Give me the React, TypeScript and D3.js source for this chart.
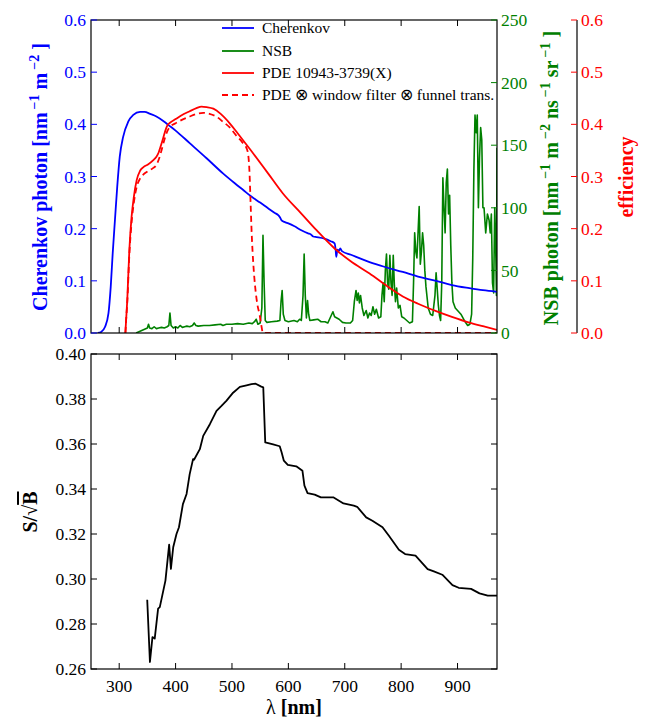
import React from 'react';
import * as d3 from 'd3';

type P = [number, number];

const cherenkov: P[] = [
  [262, 0], [268, 0.002], [275, 0.012], [281, 0.038], [285, 0.089], [288.5, 0.153], [292.5, 0.217],
  [296.5, 0.28], [301, 0.338], [307, 0.376], [316, 0.405], [325, 0.418], [337, 0.424], [345, 0.424],
  [355, 0.42], [366, 0.415], [380, 0.405], [387, 0.399], [400, 0.388], [425, 0.364], [455, 0.335],
  [484, 0.306], [505, 0.287], [520, 0.274], [535, 0.261], [550, 0.25], [564, 0.239], [576, 0.23],
  [582, 0.226], [585, 0.222], [588, 0.216], [593, 0.213], [600, 0.21], [610, 0.205], [623, 0.197],
  [635, 0.191], [640, 0.189], [644, 0.185], [650, 0.184], [664, 0.181], [675, 0.176], [682, 0.172],
  [684, 0.158], [685, 0.146], [687, 0.16], [690, 0.158], [692, 0.162], [695, 0.157], [711, 0.15],
  [744, 0.136], [770, 0.127], [803, 0.117], [830, 0.108], [862, 0.1], [890, 0.092], [921, 0.086],
  [945, 0.082], [970, 0.079],
];

const pde: P[] = [
  [311, 0], [312, 0.02], [314.3, 0.063], [318, 0.159], [322, 0.223], [326, 0.261], [331, 0.293],
  [337, 0.311], [343, 0.318], [351, 0.323], [360, 0.331], [366, 0.338], [370, 0.346], [373, 0.356],
  [377, 0.37], [381, 0.385], [385, 0.397], [390, 0.403], [400, 0.41], [410, 0.417], [425, 0.425],
  [437, 0.431], [446, 0.434], [455, 0.433], [467, 0.43], [480, 0.42], [496, 0.402], [510, 0.383],
  [530, 0.355], [564, 0.306], [590, 0.268], [623, 0.229], [650, 0.197], [682, 0.162], [710, 0.138],
  [744, 0.114], [775, 0.09], [803, 0.07], [830, 0.056], [862, 0.042], [890, 0.031], [921, 0.02],
  [945, 0.013], [970, 0.006],
];

const pdeFiltered: P[] = [
  [311, 0], [312, 0.02], [314.3, 0.058], [318, 0.15], [322, 0.212], [326, 0.25], [331, 0.28],
  [337, 0.296], [343, 0.304], [351, 0.31], [360, 0.316], [366, 0.322], [370, 0.332], [375, 0.35],
  [380, 0.37], [385, 0.386], [390, 0.395], [400, 0.402], [412, 0.409], [425, 0.415], [437, 0.42],
  [449, 0.422], [460, 0.42], [472, 0.415], [484, 0.405], [496, 0.394], [508, 0.378], [518, 0.366],
  [526, 0.354], [529, 0.34], [531, 0.31], [533, 0.25], [535, 0.19], [538, 0.13], [541, 0.09],
  [545, 0.055], [549, 0.035], [552, 0.015], [555, 0], [600, 0], [970, 0],
];

const nsb: P[] = [
  [330, 0], [335, 1], [340, 2], [345, 3], [350, 4], [352, 7], [354, 4], [358, 3.5], [362, 5], [366, 3.5],
  [370, 4], [375, 4.5], [380, 4], [385, 5], [388, 6], [390, 16], [392, 6], [396, 4], [400, 5], [404, 4],
  [408, 6], [412, 4.5], [416, 5], [420, 5.5], [425, 5], [430, 6], [433, 8], [436, 6], [440, 5.5], [450, 6],
  [460, 6], [470, 6.5], [480, 7], [484, 6], [490, 7], [500, 7], [510, 7.5], [520, 7], [530, 8], [536, 7.5],
  [540, 9], [543, 11], [546, 7], [550, 8], [553, 20], [555, 78], [557, 40], [559, 10], [562, 8.5], [570, 9],
  [580, 9.5], [585, 10], [587, 25], [589, 34], [591, 15], [594, 10], [600, 9], [610, 10], [616, 9], [620, 11],
  [623, 10], [626, 30], [628, 63], [630, 30], [632, 12], [634, 26], [636, 15], [638, 10], [645, 10.5],
  [652, 11], [658, 9], [665, 9], [670, 8], [676, 14], [679, 17], [682, 13], [686, 12], [690, 11], [696, 8.5],
  [702, 8], [710, 8], [714, 10], [717, 25], [720, 34], [722, 26], [724, 32], [726, 24], [728, 30], [731, 20],
  [734, 14], [738, 18], [741, 12], [744, 16], [747, 14], [750, 21], [753, 15], [756, 19], [760, 12], [764, 13],
  [766, 30], [768, 40], [770, 25], [772, 50], [774, 63], [776, 40], [778, 35], [780, 62], [782, 40], [784, 30],
  [786, 62], [788, 38], [790, 25], [792, 36], [795, 20], [798, 22], [801, 13], [805, 12], [810, 10], [815, 8],
  [820, 9], [822, 40], [824, 80], [826, 65], [828, 60], [830, 80], [832, 101], [834, 55], [836, 65], [838, 80],
  [840, 70], [842, 50], [844, 37], [848, 20], [852, 15], [856, 14], [860, 30], [862, 48], [864, 35], [866, 22],
  [868, 14], [870, 10], [872, 40], [874, 124], [876, 100], [878, 80], [880, 120], [882, 131], [884, 95],
  [886, 110], [888, 70], [890, 40], [892, 25], [896, 20], [900, 18], [906, 15], [912, 10], [918, 6], [922, 7],
  [925, 15], [927, 60], [929, 130], [931, 174], [933, 160], [935, 174], [937, 100], [939, 140], [941, 164],
  [943, 154], [945, 100], [947, 100], [950, 80], [953, 95], [956, 90], [958, 80], [960, 95], [962, 40],
  [964, 32], [966, 100], [968, 60], [969, 30], [970, 148],
];

const sOverSqrtB: P[] = [
  [349.7, 0.2908], [354.5, 0.2631], [359, 0.2742], [363, 0.2735], [369, 0.2868], [372, 0.2875],
  [382, 0.2993], [388.6, 0.3153], [391.7, 0.3045], [395.8, 0.3141], [401.6, 0.32], [406, 0.323],
  [413, 0.3333], [419.5, 0.3378], [425, 0.3466], [431, 0.3533], [432.7, 0.353], [443, 0.3577],
  [449, 0.3636], [460.8, 0.3688], [472.6, 0.3747], [481.4, 0.3769], [490, 0.3792], [502, 0.3828],
  [514, 0.3854], [525.8, 0.3861], [534.6, 0.3866], [542, 0.3868], [552, 0.3855], [555.5, 0.3852],
  [559, 0.3607], [573, 0.3598], [584.7, 0.359], [588, 0.3563], [592, 0.3526], [599, 0.3507],
  [614, 0.3501], [625, 0.3481], [628.5, 0.3415], [634, 0.3382], [646.7, 0.3375], [657.7, 0.3363],
  [679.6, 0.3363], [697.8, 0.3336], [716, 0.3326], [722, 0.3321], [738, 0.3274], [749, 0.3259],
  [767, 0.323], [778, 0.3193], [796, 0.313], [807, 0.3111], [825.5, 0.3104], [847, 0.3044],
  [858, 0.3034], [873, 0.3019], [891, 0.2973], [902, 0.2961], [924, 0.2956], [939, 0.2936],
  [953.6, 0.2926], [971.5, 0.2926],
];

const xTicks = [300, 400, 500, 600, 700, 800, 900];
const cherenkovTicks = [0, 0.1, 0.2, 0.3, 0.4, 0.5, 0.6];
const nsbTicks = [0, 50, 100, 150, 200, 250];
const effTicks = [0, 0.1, 0.2, 0.3, 0.4, 0.5, 0.6];
const sbTicks = [0.26, 0.28, 0.3, 0.32, 0.34, 0.36, 0.38, 0.4];
const legendLabels = ['Cherenkov', 'NSB', 'PDE 10943-3739(X)', 'PDE \u2297 window filter \u2297 funnel trans.'];

const FONT = '"Liberation Serif", "Times New Roman", serif';
const BLUE = '#0000ff';
const GREEN = '#008000';
const RED = '#ff0000';
const TICK_FS = 17.5;

function Sup({ s }: { s: string }) {
  return (
    <>
      <tspan dx={3} dy={-8} fontSize={14}>{s}</tspan>
      <tspan dy={8}>{'\u00A0'}</tspan>
    </>
  );
}

export default function App() {
  const L = 91, R = 497;
  const T1 = 20, B1 = 333;
  const T2 = 354, B2 = 669;
  const EFF_X = 577;
  const TL = 6;

  const x = d3.scaleLinear().domain([250, 970]).range([L, R]);
  const yC = d3.scaleLinear().domain([0, 0.6]).range([B1, T1]);
  const yN = d3.scaleLinear().domain([0, 250]).range([B1, T1]);
  const yE = d3.scaleLinear().domain([0, 0.6]).range([B1, T1]);
  const yS = d3.scaleLinear().domain([0.26, 0.4]).range([B2, T2]);

  const smooth = (ys: d3.ScaleLinear<number, number>) =>
    d3.line<P>().x(d => x(d[0])).y(d => ys(d[1])).curve(d3.curveMonotoneX);
  const lin = (ys: d3.ScaleLinear<number, number>) =>
    d3.line<P>().x(d => x(d[0])).y(d => ys(d[1]));

  const fmt1 = d3.format('.1f');
  const fmt2 = d3.format('.2f');

  const legendColors = [BLUE, GREEN, RED, RED];
  const legendDash = [null, null, null, '6,4'];
  const legendY = [28, 51, 73, 95];

  return (
    <svg width={645} height={720} style={{ position: 'absolute', left: 0, top: 0, background: '#fff' }}
      fontFamily={FONT}>
      <defs>
        <clipPath id="clipTop"><rect x={L} y={T1} width={R - L} height={B1 - T1} /></clipPath>
        <clipPath id="clipBot"><rect x={L} y={T2} width={R - L} height={B2 - T2} /></clipPath>
      </defs>

      {/* ---------- TOP PANEL ---------- */}
      <g clipPath="url(#clipTop)">
        <path d={lin(yN)(nsb) || ''} fill="none" stroke={GREEN} strokeWidth={1.6} strokeLinejoin="round" />
        <path d={smooth(yC)(cherenkov) || ''} fill="none" stroke={BLUE} strokeWidth={1.8} />
        <path d={smooth(yE)(pde) || ''} fill="none" stroke={RED} strokeWidth={1.8} />
        <path d={smooth(yE)(pdeFiltered) || ''} fill="none" stroke={RED} strokeWidth={1.8} strokeDasharray="6,4" />
      </g>
      <rect x={L} y={T1} width={R - L} height={B1 - T1} fill="none" stroke="#000" strokeWidth={1.2} />

      {xTicks.map(t => (
        <g key={'tx' + t}>
          <line x1={x(t)} x2={x(t)} y1={B1} y2={B1 - TL} stroke="#000" strokeWidth={1} />
          <line x1={x(t)} x2={x(t)} y1={T1} y2={T1 + TL} stroke="#000" strokeWidth={1} />
        </g>
      ))}
      {cherenkovTicks.map(t => (
        <g key={'tc' + t}>
          <line x1={L} x2={L + TL} y1={yC(t)} y2={yC(t)} stroke={BLUE} strokeWidth={1} />
          <text x={86} y={yC(t)} dy="0.35em" textAnchor="end" fontSize={TICK_FS} fill={BLUE}>{fmt1(t)}</text>
        </g>
      ))}
      {nsbTicks.map(t => (
        <g key={'tn' + t}>
          <line x1={R} x2={R - TL} y1={yN(t)} y2={yN(t)} stroke={GREEN} strokeWidth={1} />
          <text x={501} y={yN(t)} dy="0.35em" textAnchor="start" fontSize={TICK_FS} fill={GREEN}>{t}</text>
        </g>
      ))}
      <line x1={EFF_X} x2={EFF_X} y1={T1} y2={B1} stroke="#000" strokeWidth={1.2} />
      {effTicks.map(t => (
        <g key={'te' + t}>
          <line x1={EFF_X} x2={EFF_X - TL} y1={yE(t)} y2={yE(t)} stroke={RED} strokeWidth={1} />
          <text x={581} y={yE(t)} dy="0.35em" textAnchor="start" fontSize={TICK_FS} fill={RED}>{fmt1(t)}</text>
        </g>
      ))}

      {/* axis labels top */}
      <text transform={`translate(47,177) rotate(-90)`} textAnchor="middle" fontSize={20}
        fontWeight="bold" fill={BLUE}>
        {'Cherenkov photon [nm'}<Sup s={'\u22121'} />{'m'}<Sup s={'\u22122'} />{']'}
      </text>
      <text transform={`translate(558,178) rotate(-90)`} textAnchor="middle" fontSize={20}
        fontWeight="bold" fill={GREEN}>
        {'NSB photon [nm'}<Sup s={'\u22121'} />{'m'}<Sup s={'\u22122'} />{'ns'}<Sup s={'\u22121'} />{'sr'}<Sup s={'\u22121'} />{']'}
      </text>
      <text transform={`translate(633,177) rotate(-90)`} textAnchor="middle" fontSize={20}
        fontWeight="bold" fill={RED}>efficiency</text>

      {/* legend */}
      {legendLabels.map((lab, i) => (
        <g key={'lg' + i}>
          <line x1={222} x2={254} y1={legendY[i]} y2={legendY[i]} stroke={legendColors[i]} strokeWidth={1.8}
            strokeDasharray={legendDash[i] || undefined} />
          <text x={262} y={legendY[i]} dy="0.35em" fontSize={15.5} fill="#000">{lab}</text>
        </g>
      ))}

      {/* ---------- BOTTOM PANEL ---------- */}
      <g clipPath="url(#clipBot)">
        <path d={lin(yS)(sOverSqrtB) || ''} fill="none" stroke="#000" strokeWidth={1.8} strokeLinejoin="round" />
      </g>
      <rect x={L} y={T2} width={R - L} height={B2 - T2} fill="none" stroke="#000" strokeWidth={1.2} />
      {xTicks.map(t => (
        <g key={'bx' + t}>
          <line x1={x(t)} x2={x(t)} y1={B2} y2={B2 - TL} stroke="#000" strokeWidth={1} />
          <line x1={x(t)} x2={x(t)} y1={T2} y2={T2 + TL} stroke="#000" strokeWidth={1} />
          <text x={x(t)} y={692} textAnchor="middle" fontSize={TICK_FS} fill="#000">{t}</text>
        </g>
      ))}
      {sbTicks.map(t => (
        <g key={'by' + t}>
          <line x1={L} x2={L + TL} y1={yS(t)} y2={yS(t)} stroke="#000" strokeWidth={1} />
          <line x1={R} x2={R - TL} y1={yS(t)} y2={yS(t)} stroke="#000" strokeWidth={1} />
          <text x={86} y={yS(t)} dy="0.35em" textAnchor="end" fontSize={TICK_FS} fill="#000">{fmt2(t)}</text>
        </g>
      ))}
      <text transform={`translate(37,512) rotate(-90)`} textAnchor="middle" fontSize={20}
        fontWeight="bold" fill="#000">
        S/{'\u221A'}<tspan style={{ textDecoration: 'overline' }}>B</tspan>
      </text>
      <text x={294} y={714} textAnchor="middle" fontSize={20} fontWeight="bold" fill="#000">
        <tspan fontWeight="normal">{'\u03BB'}</tspan> [nm]
      </text>
    </svg>
  );
}
